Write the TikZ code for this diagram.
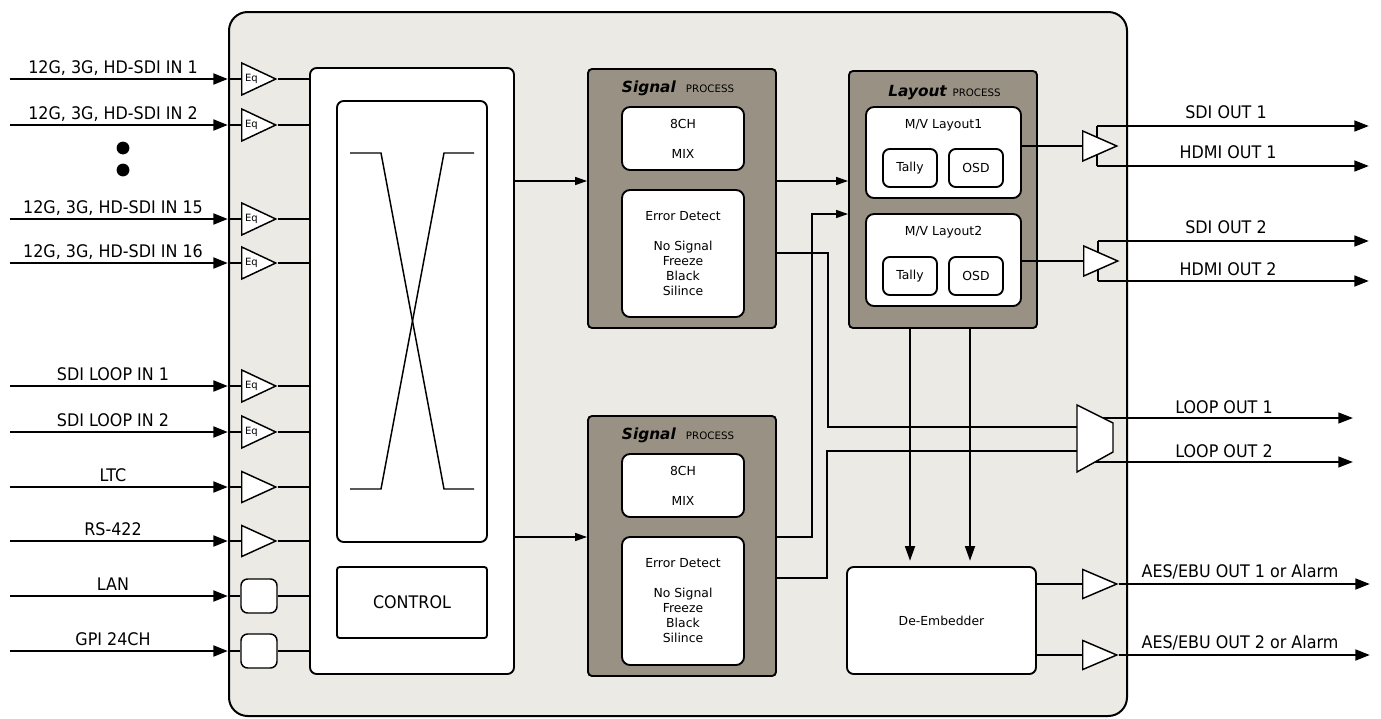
\documentclass[tikz,border=0pt]{standalone}
\usepackage{fontspec}
\setmainfont{DejaVu Sans}
\newfontfamily\lblfam[FakeStretch=0.92]{DejaVu Sans}
\usetikzlibrary{arrows.meta,shapes.geometric,calc}
\definecolor{frameC}{HTML}{ECEAE5}
\definecolor{procC}{HTML}{999183}
\begin{document}
\begin{tikzpicture}[x=0.75pt,y=-0.75pt,
  frame/.style={draw,line width=1.5pt,fill=frameC,rounded corners=14pt,minimum width=673.5pt,minimum height=528pt,inner sep=0pt},
  wbox/.style={draw,line width=1.4pt,fill=white,inner sep=0pt},
  proc/.style={draw,line width=1.4pt,fill=procC,rounded corners=3pt,inner sep=0pt},
  amp/.style={isosceles triangle,isosceles triangle stretches,draw,fill=white,line width=1.1pt,inner sep=0pt,anchor=west,minimum height=25.5pt,minimum width=24pt},
  eqfont/.style={font=\fontsize{7.5}{8}\selectfont},
  boxfont/.style={font=\fontsize{9.3}{11.25}\selectfont},
  lbl/.style={font=\lblfam\fontsize{13}{15}\selectfont,anchor=base,inner sep=0pt},
  ttl/.style={font=\fontsize{11.5}{13}\selectfont,anchor=base,inner sep=0pt},
  ln/.style={line width=1.1pt},
  inarr/.style={line width=2.2pt,-{Triangle[length=11pt,width=8pt]}},
  outarr/.style={line width=2pt,-{Triangle[length=11pt,width=8pt]}},
  looparr/.style={line width=1.6pt,-{Triangle[length=11pt,width=8pt]}},
  iarr/.style={line width=1.1pt,-{Triangle[length=9pt,width=6pt]}},
  darr/.style={line width=1.3pt,-{Triangle[length=11pt,width=7.5pt]},shorten >=4pt}
]
\useasboundingbox (0,0) rectangle (1381,718);

% main frame
\node[frame] (frame) at (678,364) {};

% crossbar
\node[wbox,rounded corners=5pt,minimum width=153pt,minimum height=454.5pt] (xbar) at (412,371) {};
\node[wbox,rounded corners=5pt,minimum width=112.5pt,minimum height=330.75pt] (xin) at (412,321.5) {};
\draw[ln] (350,153) -- (381,153) -- (444,489) -- (474,489);
\draw[ln] (474,153) -- (444,153) -- (381,489) -- (350,489);
\node[wbox,rounded corners=2pt,minimum width=112.5pt,minimum height=53.25pt,font=\lblfam\fontsize{13}{15}\selectfont] (ctrl) at (412,602.5) {CONTROL};

% signal process 1
\node[proc,minimum width=141pt,minimum height=194.25pt] (sp1) at (682,198.5) {};
\node[ttl] (sp1t) at (678,92) {\textbf{\textit{Signal}}\hspace{7.5pt}{\fontsize{7.7}{9}\selectfont PROCESS}};
\node[wbox,rounded corners=6pt,minimum width=91.5pt,minimum height=47.25pt,align=center,boxfont] (mix1) at (683,138.5) {8CH\\[11.25pt]MIX};
\node[wbox,rounded corners=6pt,minimum width=91.5pt,minimum height=95.25pt,align=center,boxfont] (err1) at (683,253.5) {Error Detect\\[11.25pt]No Signal\\Freeze\\Black\\Silince};

% signal process 2
\node[proc,minimum width=141pt,minimum height=195pt] (sp2) at (682,546) {};
\node[ttl] (sp2t) at (678,439) {\textbf{\textit{Signal}}\hspace{7.5pt}{\fontsize{7.7}{9}\selectfont PROCESS}};
\node[wbox,rounded corners=6pt,minimum width=91.5pt,minimum height=47.25pt,align=center,boxfont] (mix2) at (683,485.5) {8CH\\[11.25pt]MIX};
\node[wbox,rounded corners=6pt,minimum width=91.5pt,minimum height=96pt,align=center,boxfont] (err2) at (683,601) {Error Detect\\[11.25pt]No Signal\\Freeze\\Black\\Silince};

% layout process
\node[proc,minimum width=141pt,minimum height=192.75pt] (lay) at (943,199.5) {};
\node[ttl] (layt) at (944.5,96) {\textbf{\textit{Layout}}\hspace{4pt}{\fontsize{7.7}{9}\selectfont PROCESS}};
\node[wbox,rounded corners=6pt,minimum width=116.25pt,minimum height=68.25pt] (mv1) at (943.5,152.5) {};
\node[boxfont,inner sep=0pt] (mv1t) at (943.5,125) {M/V Layout1};
\node[wbox,rounded corners=5pt,minimum width=40.5pt,minimum height=28.5pt,boxfont] (ta1) at (910,168) {Tally};
\node[wbox,rounded corners=5pt,minimum width=40.5pt,minimum height=28.5pt,boxfont] (os1) at (976,168) {OSD};
\node[wbox,rounded corners=6pt,minimum width=116.25pt,minimum height=69pt] (mv2) at (943.5,260) {};
\node[boxfont,inner sep=0pt] (mv2t) at (943.5,232) {M/V Layout2};
\node[wbox,rounded corners=5pt,minimum width=40.5pt,minimum height=28.5pt,boxfont] (ta2) at (910,276) {Tally};
\node[wbox,rounded corners=5pt,minimum width=40.5pt,minimum height=28.5pt,boxfont] (os2) at (976,276) {OSD};

% de-embedder
\node[wbox,rounded corners=5pt,minimum width=141.75pt,minimum height=80.25pt,boxfont] (de) at (941.5,620.5) {De-Embedder};

% inputs with Eq
\foreach \n/\y/\t in {1/79/{12G, 3G, HD-SDI IN 1},2/125/{12G, 3G, HD-SDI IN 2},3/219/{12G, 3G, HD-SDI IN 15},4/263/{12G, 3G, HD-SDI IN 16},5/386/{SDI LOOP IN 1},6/432/{SDI LOOP IN 2}}{
  \coordinate (s\n) at (10,\y);
  \node[amp,eqfont] (eq\n) at (241,\y) {Eq};
  \draw[inarr] (s\n) -- (s\n -| frame.west);
  \draw[ln] (s\n -| frame.west) -- (eq\n.west);
  \draw[ln] (eq\n.east) -- (eq\n.east -| xbar.west);
  \node[lbl] (l\n) at (113,\y-6) {\t};
}
\fill (123,148) circle (4.8pt);
\fill (123,170) circle (4.8pt);

% LTC, RS-422
\foreach \n/\y/\t in {7/487/{LTC},8/541/{RS-422}}{
  \coordinate (s\n) at (10,\y);
  \node[amp,minimum width=23.25pt] (eq\n) at (241,\y) {};
  \draw[inarr] (s\n) -- (s\n -| frame.west);
  \draw[ln] (s\n -| frame.west) -- (eq\n.west);
  \draw[ln] (eq\n.east) -- (eq\n.east -| xbar.west);
  \node[lbl] (l\n) at (113,\y-6) {\t};
}
% LAN, GPI
\foreach \n/\y/\t in {9/596/{LAN},10/651/{GPI 24CH}}{
  \coordinate (s\n) at (10,\y);
  \node[wbox,line width=1.1pt,rounded corners=5pt,minimum width=27pt,minimum height=25.5pt] (pt\n) at (259,\y) {};
  \draw[inarr] (s\n) -- (s\n -| frame.west);
  \draw[ln] (s\n -| frame.west) -- (pt\n.west);
  \draw[ln] (pt\n.east) -- (pt\n.east -| xbar.west);
  \node[lbl] (l\n) at (113,\y-6) {\t};
}

% internal connectors
\coordinate (y181) at (0,181);
\coordinate (y537) at (0,537);
\draw[iarr] (xbar.east |- y181) -- (sp1.west |- y181);
\draw[iarr] (sp1.east |- y181) -- (lay.west |- y181);
\draw[iarr] (xbar.east |- y537) -- (sp2.west |- y537);
\coordinate (k1) at (812,214);
\draw[iarr] (sp2.east |- y537) -| (k1) -- (lay.west |- k1);
\coordinate (k2) at (828,253);
\coordinate (mxa) at (1077,427);
\draw[ln] (sp1.east |- k2) -- (k2) |- (mxa);
\coordinate (k3) at (827,578);
\coordinate (mxb) at (1077,451);
\draw[ln] (sp2.east |- k3) -- (k3) |- (mxb);

% layout to de-embedder
\coordinate (d1) at (910,0);
\coordinate (d2) at (970,0);
\draw[darr] (lay.south -| d1) -- (de.north -| d1);
\draw[darr] (lay.south -| d2) -- (de.north -| d2);

% SDI/HDMI outputs
\coordinate (b1t) at (1097,126); \coordinate (b1b) at (1097,166);
\coordinate (e1t) at (1369,126); \coordinate (e1b) at (1369,166);
\draw[ln] (b1t) -- (b1b);
\draw[outarr] (b1t) -- (e1t);
\draw[outarr] (b1b) -- (e1b);
\node[amp,minimum width=22.5pt] (o1) at (1082,146) {};
\draw[ln] (o1.west -| mv1.east) -- (o1.west);
\node[lbl] (lo1) at (1226,118) {SDI OUT 1};
\node[lbl] (lh1) at (1228,158) {HDMI OUT 1};

\coordinate (b2t) at (1098,241); \coordinate (b2b) at (1098,281);
\coordinate (e2t) at (1369,241); \coordinate (e2b) at (1369,281);
\draw[ln] (b2t) -- (b2b);
\draw[outarr] (b2t) -- (e2t);
\draw[outarr] (b2b) -- (e2b);
\node[amp,minimum width=22.5pt] (o2) at (1083,261) {};
\draw[ln] (o2.west -| mv2.east) -- (o2.west);
\node[lbl] (lo2) at (1226,233) {SDI OUT 2};
\node[lbl] (lh2) at (1228,275) {HDMI OUT 2};

% loop outputs via mux
\coordinate (lp1s) at (1100,418); \coordinate (lp1e) at (1353,418);
\coordinate (lp2s) at (1095,462); \coordinate (lp2e) at (1353,462);
\draw[looparr] (lp1s) -- (lp1e);
\draw[looparr] (lp2s) -- (lp2e);
\draw[ln,fill=white] (1077,405) -- (1113,423) -- (1113,452) -- (1077,472) -- cycle;
\node[lbl] (ll1) at (1224,413) {LOOP OUT 1};
\node[lbl] (ll2) at (1224,457) {LOOP OUT 2};

% AES outputs
\node[amp,minimum width=21.75pt] (a1) at (1082,584) {};
\node[amp,minimum width=21.75pt] (a2) at (1082,655) {};
\draw[ln] (a1.west -| de.east) -- (a1.west);
\draw[ln] (a2.west -| de.east) -- (a2.west);
\coordinate (ae1) at (1370,584); \coordinate (ae2) at (1370,655);
\draw[outarr] (a1.east) -- (ae1);
\draw[outarr] (a2.east) -- (ae2);
\node[lbl] (la1) at (1240,577) {AES/EBU OUT 1 or Alarm};
\node[lbl] (la2) at (1240,648) {AES/EBU OUT 2 or Alarm};
\end{tikzpicture}
\end{document}
